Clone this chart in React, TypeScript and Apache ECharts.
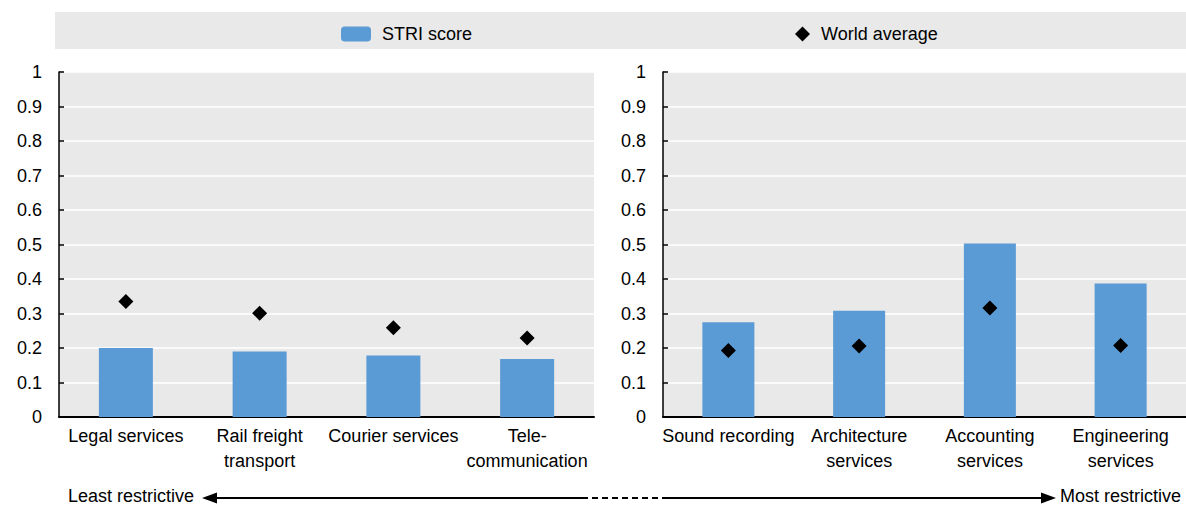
import React, { useEffect, useRef } from "react";
import * as echarts from "echarts";

const leftCategories = ["Legal services", "Rail freight\ntransport", "Courier services", "Tele-\ncommunication"];
const leftScore = [0.2, 0.19, 0.178, 0.168];
const leftWorld = [0.335, 0.301, 0.259, 0.229];

const rightCategories = ["Sound recording", "Architecture\nservices", "Accounting\nservices", "Engineering\nservices"];
const rightScore = [0.275, 0.308, 0.503, 0.387];
const rightWorld = [0.193, 0.206, 0.316, 0.207];

const yMin = 0;
const yMax = 1;
const yStep = 0.1;

const leastLabel = "Least restrictive";
const mostLabel = "Most restrictive";

const FONT = "Liberation Sans, Arial, sans-serif";
const FS = 18;
const BAR = "#5b9bd5";
const BG = "#e9e9e9";

export default function App() {
  const ref = useRef<HTMLDivElement>(null);
  useEffect(() => {
    document.body.style.margin = "0";
    if (!ref.current) return;
    const chart = echarts.init(ref.current, null, { renderer: "svg" });
    const yAxisBase = (gridIndex: number) => ({
      type: "value",
      gridIndex,
      min: yMin,
      max: yMax,
      interval: yStep,
      axisLine: { show: true, lineStyle: { color: "#000", width: 1.5 } },
      axisTick: { show: true, inside: true, length: 5, lineStyle: { color: "#000", width: 1.5 } },
      splitLine: { show: true, lineStyle: { color: "#fff", width: 1.5 } },
      axisLabel: {
        color: "#000",
        fontSize: FS,
        fontFamily: FONT,
        margin: 17,
        formatter: (v: number) => String(+v.toFixed(1)),
      },
    });
    const xAxisBase = (gridIndex: number, data: string[]) => ({
      type: "category",
      gridIndex,
      data,
      axisLine: { show: true, lineStyle: { color: "#000", width: 2 } },
      axisTick: { show: false },
      axisLabel: {
        color: "#000",
        fontSize: FS,
        fontFamily: FONT,
        margin: 6,
        interval: 0,
        lineHeight: 25,
      },
    });
    chart.setOption({
      animation: false,
      textStyle: { fontFamily: FONT },
      grid: [
        { left: 59, top: 72, width: 535, height: 345, show: true, backgroundColor: BG, borderWidth: 0 },
        { left: 663, top: 72, width: 523, height: 345, show: true, backgroundColor: BG, borderWidth: 0 },
      ],
      xAxis: [xAxisBase(0, leftCategories), xAxisBase(1, rightCategories)],
      yAxis: [yAxisBase(0), yAxisBase(1)],
      legend: [
        {
          data: ["STRI score"],
          left: 336,
          top: 20,
          itemWidth: 30,
          itemHeight: 15,
          itemGap: 14,
          textStyle: { color: "#000", fontSize: FS, fontFamily: FONT, padding: [0, 0, 0, 6] },
          selectedMode: false,
        },
        {
          data: ["World average"],
          left: 790,
          top: 20,
          itemWidth: 15,
          itemHeight: 15,
          textStyle: { color: "#000", fontSize: FS, fontFamily: FONT, padding: [0, 0, 0, 6] },
          selectedMode: false,
        },
      ],
      series: [
        {
          name: "STRI score",
          type: "bar",
          xAxisIndex: 0,
          yAxisIndex: 0,
          data: leftScore,
          barWidth: 54,
          itemStyle: { color: BAR },
        },
        {
          name: "World average",
          type: "scatter",
          xAxisIndex: 0,
          yAxisIndex: 0,
          data: leftWorld,
          symbol: "diamond",
          symbolSize: 15,
          itemStyle: { color: "#000", opacity: 1 },
        },
        {
          name: "STRI score",
          type: "bar",
          xAxisIndex: 1,
          yAxisIndex: 1,
          data: rightScore,
          barWidth: 52,
          itemStyle: { color: BAR },
        },
        {
          name: "World average",
          type: "scatter",
          xAxisIndex: 1,
          yAxisIndex: 1,
          data: rightWorld,
          symbol: "diamond",
          symbolSize: 15,
          itemStyle: { color: "#000", opacity: 1 },
        },
      ],
      graphic: [
        { type: "rect", z: -10, shape: { x: 55, y: 12, width: 1131, height: 37 }, style: { fill: BG } },
        {
          type: "text",
          x: 68,
          y: 496,
          style: { text: leastLabel, fill: "#000", font: `${FS}px ${FONT}`, verticalAlign: "middle" },
        },
        {
          type: "text",
          x: 1181,
          y: 496,
          style: { text: mostLabel, fill: "#000", font: `${FS}px ${FONT}`, verticalAlign: "middle", align: "right" },
        },
        { type: "line", shape: { x1: 212, y1: 498, x2: 582, y2: 498 }, style: { stroke: "#000", lineWidth: 2 } },
        { type: "line", shape: { x1: 582, y1: 498, x2: 666, y2: 498 }, style: { stroke: "#000", lineWidth: 2, lineDash: [6, 4] } },
        { type: "line", shape: { x1: 666, y1: 498, x2: 1046, y2: 498 }, style: { stroke: "#000", lineWidth: 2 } },
        { type: "polygon", shape: { points: [[202, 498], [217, 492.5], [217, 503.5]] }, style: { fill: "#000" } },
        { type: "polygon", shape: { points: [[1056, 498], [1041, 492.5], [1041, 503.5]] }, style: { fill: "#000" } },
      ],
    });
    return () => chart.dispose();
  }, []);
  return <div ref={ref} style={{ width: 1186, height: 506 }} />;
}
